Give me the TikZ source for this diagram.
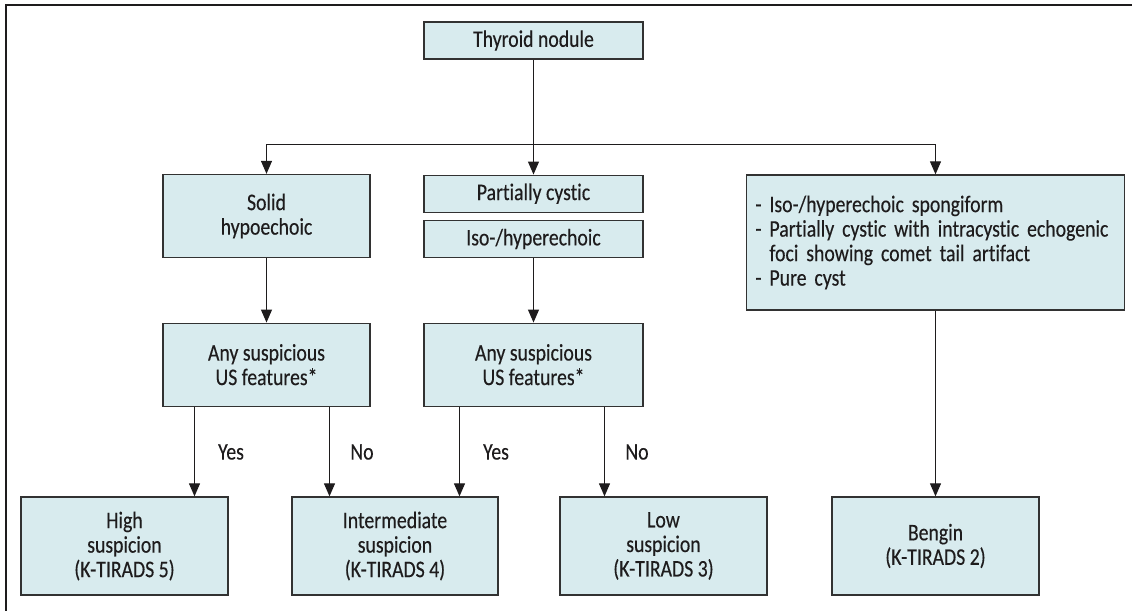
\documentclass[tikz,border=0pt]{standalone}
\usepackage{fontspec}
\setmainfont{Carlito}[FakeStretch=0.83, FakeBold=0.3, Ligatures=NoCommon]
\usetikzlibrary{arrows.meta}
\definecolor{boxfill}{RGB}{216,235,238}
\definecolor{boxline}{RGB}{50,50,50}
\definecolor{txt}{RGB}{30,28,29}
\begin{document}
\begin{tikzpicture}[x=1pt,y=-1pt,
  box/.style={draw=boxline, fill=boxfill, line width=1.3pt, align=center, inner sep=0pt,
              text=txt, font=\fontsize{23.8}{24.5}\selectfont},
  arr/.style={draw=txt, line width=1.1pt, -{Triangle[length=13pt,width=11pt]}},
  lbl/.style={text=txt, font=\fontsize{23.8}{24.5}\selectfont, inner sep=0pt}]
\useasboundingbox (0,0) rectangle (1132,611);
% frame (top and left edges only)
\draw[line width=2pt, draw=txt] (1132,4.5) -- (6,4.5) -- (6,611);

\node[box, minimum width=219pt, minimum height=37pt] (thy) at (533.5,40.5) {Thyroid nodule};
\node[box, minimum width=207pt, minimum height=83pt] (solid) at (266.5,216) {Solid\\hypoechoic};
\node[box, minimum width=219pt, minimum height=37pt] (pc) at (533.5,193.7) {Partially cystic};
\node[box, minimum width=219pt, minimum height=37pt] (iso) at (533.5,239) {Iso-/hyperechoic};
\node[box, minimum width=378pt, minimum height=135pt, align=left, text width=360pt, inner xsep=9pt] (right) at (935.5,242.5)
  {- Iso-/hyperechoic spongiform\\- Partially cystic with intracystic echogenic\\\phantom{- }foci showing comet tail artifact\\- Pure cyst};
\node[box, minimum width=207pt, minimum height=83pt] (any1) at (266.5,364.7) {Any suspicious\\US features*};
\node[box, minimum width=219pt, minimum height=83pt] (any2) at (533.5,364.7) {Any suspicious\\US features*};
\node[box, minimum width=207pt, minimum height=98pt] (high) at (124.5,546) {High\\suspicion\\(K-TIRADS 5)};
\node[box, minimum width=206pt, minimum height=98pt] (inter) at (395,546) {Intermediate\\suspicion\\(K-TIRADS 4)};
\node[box, minimum width=207pt, minimum height=98pt] (low) at (663.5,546) {Low\\suspicion\\(K-TIRADS 3)};
\node[box, minimum width=207pt, minimum height=98pt] (ben) at (935.5,546) {Bengin\\(K-TIRADS 2)};

\coordinate (j) at (533.5,144.5);
\draw[arr] (thy.south) -- (thy.south |- pc.north);
\draw[arr] (j) -| (solid.north);
\draw[arr] (j) -| (right.north);
\draw[arr] (solid) -- (any1);
\draw[arr] (iso.south) -- (any2.north);
\draw[arr] ([xshift=-72pt]any1.south) -- ([xshift=70pt]high.north);
\draw[arr] ([xshift=63pt]any1.south) -- ([xshift=-65.5pt]inter.north);
\draw[arr] ([xshift=-74pt]any2.south) -- ([xshift=64.5pt]inter.north);
\draw[arr] ([xshift=71pt]any2.south) -- ([xshift=-59pt]low.north);
\draw[arr] (right.south) -- (ben.north);

\node[lbl] (y1) at (231,452) {Yes};
\node[lbl] (n1) at (362,452) {No};
\node[lbl] (y2) at (496,452) {Yes};
\node[lbl] (n2) at (637,452) {No};
\end{tikzpicture}
\end{document}
